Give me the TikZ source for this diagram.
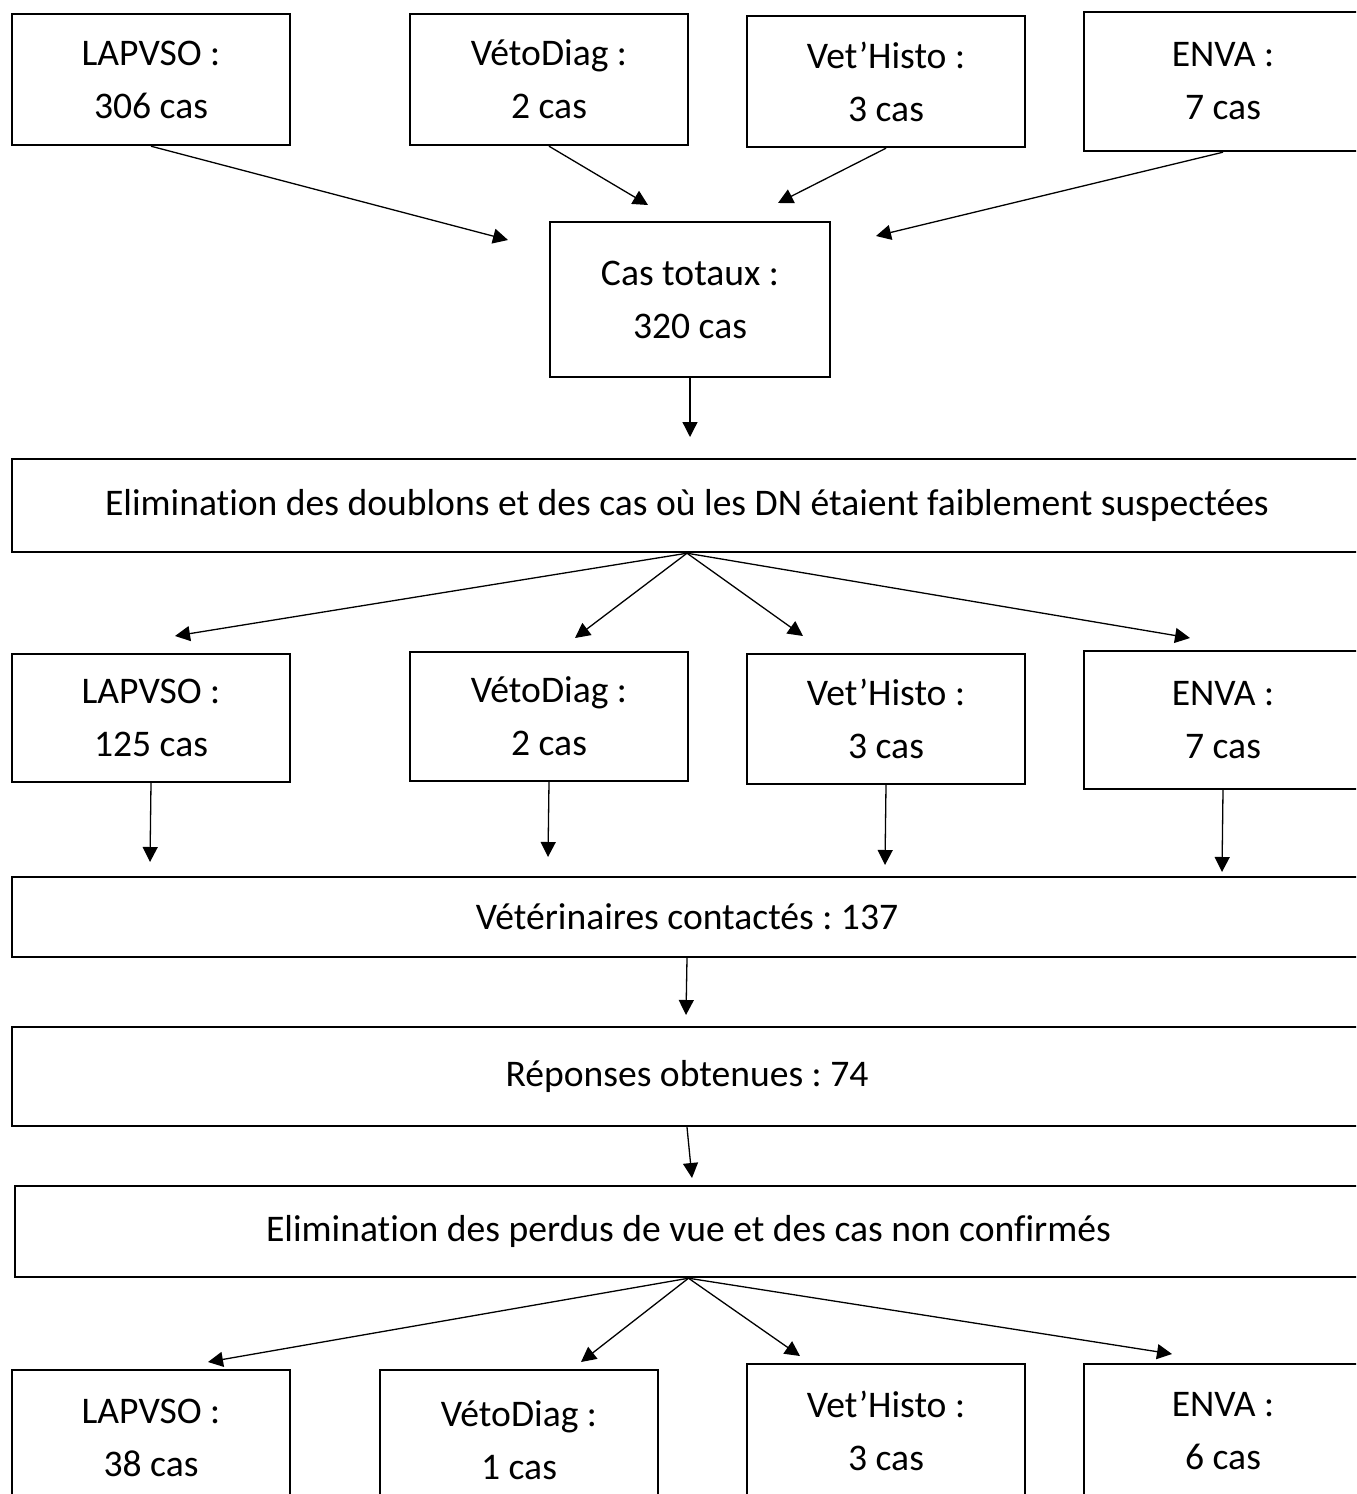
\documentclass[tikz,border=0pt]{standalone}
\usepackage{fontspec}
\setmainfont{Carlito}[Ligatures = NoCommon]
\usetikzlibrary{arrows.meta}
\frenchspacing

\begin{document}
\begin{tikzpicture}[x = 0.5pt, y = -0.5pt,
                    box/.style = {draw, line width = 1.2pt, align = center, inner sep = 0pt,
                                  font = \fontsize{18.8}{26.5}\selectfont},
                    small/.style = {box, minimum width = 139pt},
                    wide/.style = {box, minimum width = 675pt},
                    link/.style = {line width = 0.65pt, -{Triangle[length = 7.5pt, width = 7.5pt]}}]
    \useasboundingbox (0, 0) rectangle (1356, 1494);
    \clip (0, 0) rectangle (1356, 1494);
    % sources
    \node [small, minimum height = 65.5pt] (lapA) at (151, 79.5) {LAPVSO :\\306 cas};
    \node [small, minimum height = 65.5pt] (vetoA) at (549, 79.5) {VétoDiag :\\2 cas};
    \node [small, minimum height = 65.5pt] (histoA) at (886, 81.5) {Vet’Histo :\\3 cas};
    \node [small, minimum height = 69.5pt] (envaA) at (1223, 81.5) {ENVA :\\7 cas};
    \node [box, minimum width = 140pt, minimum height = 77.5pt] (total) at (690, 299.5) {Cas totaux :\\320 cas};
    \coordinate (inA1) at (508, 240);
    \coordinate (inA2) at (648, 205);
    \coordinate (inA3) at (778, 203);
    \coordinate (inA4) at (876, 236);
    \draw [link] (lapA.south) -- (inA1);
    \draw [link] (vetoA.south) -- (inA2);
    \draw [link] (histoA.south) -- (inA3);
    \draw [link] (envaA.south) -- (inA4);
    \coordinate (inB) at (690, 437);
    \draw [link] (total.south) -- (inB);
    % first selection
    \node [wide, minimum height = 46.5pt] (elimA) at (687, 505.5)
        {Elimination des doublons et des cas où les DN étaient faiblement suspectées};
    \coordinate (outA1) at (175, 636);
    \coordinate (outA2) at (575, 638);
    \coordinate (outA3) at (803, 636);
    \coordinate (outA4) at (1190, 638);
    \foreach \i in {1, 2, 3, 4}
        \draw [link] (elimA.south) -- (outA\i);
    \node [small, minimum height = 64pt] (lapB) at (151, 718) {LAPVSO :\\125 cas};
    \node [small, minimum height = 64.5pt] (vetoB) at (549, 716.5) {VétoDiag :\\2 cas};
    \node [small, minimum height = 65pt] (histoB) at (886, 719) {Vet’Histo :\\3 cas};
    \node [small, minimum height = 69pt] (envaB) at (1223, 720) {ENVA :\\7 cas};
    \coordinate (downB1) at (150, 862);
    \coordinate (downB2) at (548, 857);
    \coordinate (downB3) at (885, 865);
    \coordinate (downB4) at (1222, 872);
    \draw [link] (lapB.south) -- (downB1);
    \draw [link] (vetoB.south) -- (downB2);
    \draw [link] (histoB.south) -- (downB3);
    \draw [link] (envaB.south) -- (downB4);
    % contacts
    \node [wide, minimum height = 40pt] (contact) at (687, 917) {Vétérinaires contactés : 137};
    \coordinate (inC) at (686, 1015);
    \draw [link] (contact.south) -- (inC);
    \node [wide, minimum height = 49.5pt] (answer) at (687, 1076.5) {Réponses obtenues : 74};
    \coordinate (inD) at (692, 1178);
    \draw [link] (answer.south) -- (inD);
    % second selection
    \node [box, minimum width = 673.5pt, minimum height = 45.5pt] (elimB) at (688.5, 1231.5)
        {Elimination des perdus de vue et des cas non confirmés};
    \coordinate (outB1) at (208, 1362);
    \coordinate (outB2) at (581, 1362);
    \coordinate (outB3) at (800, 1356);
    \coordinate (outB4) at (1172, 1354);
    \foreach \i in {1, 2, 3, 4}
        \draw [link] (elimB.south) -- (outB\i);
    \node [small, minimum height = 67.5pt] (lapC) at (151, 1437.5) {LAPVSO :\\38 cas};
    \node [small, minimum height = 70pt] (vetoC) at (519, 1440) {VétoDiag :\\1 cas};
    \node [small, minimum height = 67pt] (histoC) at (886, 1431) {Vet’Histo :\\3 cas};
    \node [small, minimum height = 67pt] (envaC) at (1223, 1431) {ENVA :\\6 cas};
\end{tikzpicture}
\end{document}
